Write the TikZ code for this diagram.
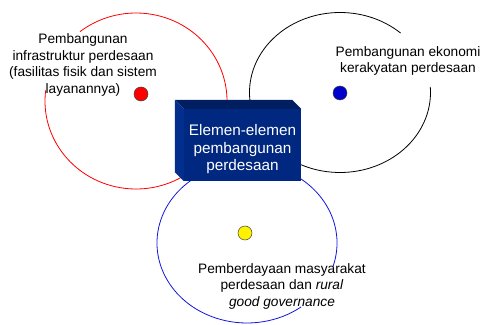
\documentclass[tikz,border=0pt]{standalone}
\usepackage{fontspec}
\setmainfont{Liberation Sans}
\definecolor{boxfront}{RGB}{0,40,128}
\definecolor{boxtop}{RGB}{0,30,96}
\definecolor{boxleft}{RGB}{2,46,142}
\definecolor{ringblue}{RGB}{20,20,225}
\definecolor{dotblue}{RGB}{0,0,205}
\begin{document}
\begin{tikzpicture}[x=1pt,y=1pt,
  ring/.style={line width=0.8pt},
  dot/.style={circle, draw=black!75, line width=0.5pt, minimum size=14pt, inner sep=0pt},
  lbl/.style={align=center, font=\fontsize{13.7}{16.5}\selectfont, inner sep=0pt},
  boxlbl/.style={align=center, text=white, font=\fontsize{15.3}{17.5}\selectfont, inner sep=0pt}]
\useasboundingbox (0,0) rectangle (484,324);
% rings
\coordinate (rc) at (136,223);
\coordinate (kc) at (340,231.5);
\coordinate (bc) at (247,81);
\draw[ring, red] (rc) ++(173:91pt and 88pt) arc[start angle=173, end angle=488, x radius=91pt, y radius=88pt];
\draw[ring, black] (kc) ++(48:90.5pt and 80pt) arc[start angle=48, end angle=364, x radius=90.5pt, y radius=80pt];
\draw[ring, ringblue] (bc) ++(-17:90pt and 80pt) arc[start angle=-17, end angle=307, x radius=90pt, y radius=80pt];
% central box
\node[fill=boxfront, minimum width=117pt, minimum height=72pt, inner sep=0pt] (box) at (242.5,179) {};
\fill[boxtop] (box.north west) -- ++(-9,9) -- ([shift={(-9,9)}]box.north east) -- (box.north east) -- cycle;
\fill[boxleft] (box.north west) -- ++(-9,9) -- ([shift={(-9,9)}]box.south west) -- (box.south west) -- cycle;
\node[boxlbl] (boxtxt) at (242.5,174.5) {Elemen-elemen\\pembangunan\\perdesaan};
% dots
\node[dot, fill=red] (rdot) at (141,230) {};
\node[dot, fill=dotblue] (bdot) at (340,231) {};
\node[dot, fill=yellow] (ydot) at (245,91) {};
% labels
\node[lbl] (rtxt) at (83,259) {Pembangunan\\infrastruktur perdesaan\\(fasilitas fisik dan sistem\\layanannya)};
\node[lbl] (ktxt) at (408,263) {Pembangunan ekonomi\\kerakyatan perdesaan};
\node[lbl] (btxt) at (282,38) {Pemberdayaan masyarakat\\perdesaan dan \textit{rural}\\\textit{good governance}};
\end{tikzpicture}
\end{document}
